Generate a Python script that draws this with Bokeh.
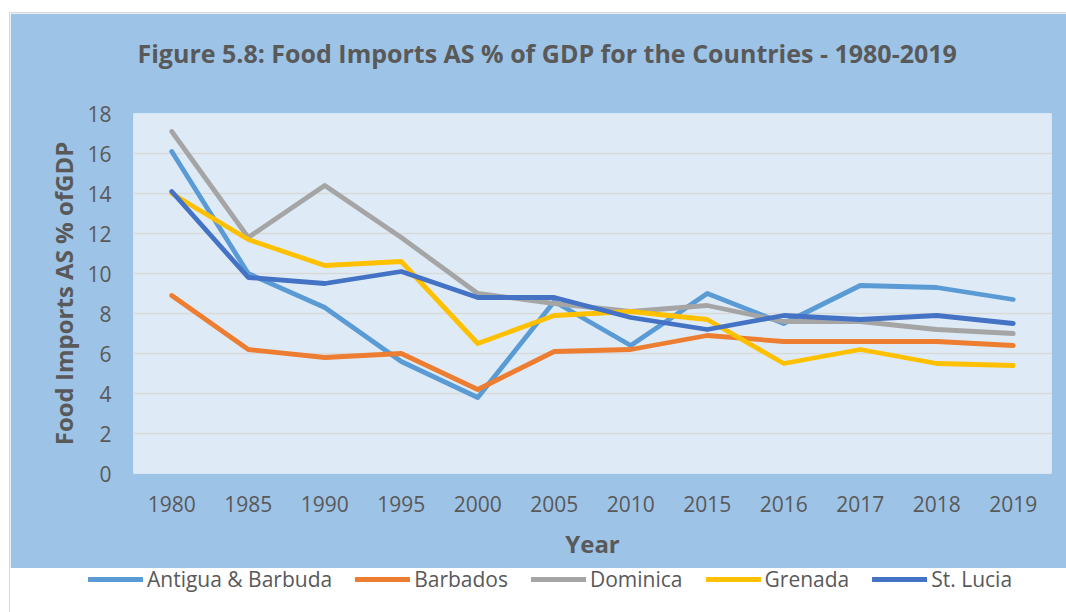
from bokeh.plotting import figure
from bokeh.layouts import column, row
from bokeh.models import Legend, LegendItem, FactorRange, Range1d, FixedTicker, Title
from bokeh.embed import file_html
from bokeh.resources import INLINE

years = ["1980", "1985", "1990", "1995", "2000", "2005", "2010", "2015", "2016", "2017", "2018", "2019"]
antigua = [16.1, 10.0, 8.3, 5.6, 3.8, 8.6, 6.4, 9.0, 7.5, 9.4, 9.3, 8.7]
barbados = [8.9, 6.2, 5.8, 6.0, 4.2, 6.1, 6.2, 6.9, 6.6, 6.6, 6.6, 6.4]
dominica = [17.1, 11.8, 14.4, 11.8, 9.0, 8.5, 8.1, 8.4, 7.6, 7.6, 7.2, 7.0]
grenada = [14.0, 11.7, 10.4, 10.6, 6.5, 7.9, 8.1, 7.7, 5.5, 6.2, 5.5, 5.4]
st_lucia = [14.1, 9.8, 9.5, 10.1, 8.8, 8.8, 7.8, 7.2, 7.9, 7.7, 7.9, 7.5]
y_ticks = [0, 2, 4, 6, 8, 10, 12, 14, 16, 18]

series = [
    ("Antigua & Barbuda", antigua, "#5B9BD5"),
    ("Barbados", barbados, "#ED7D31"),
    ("Dominica", dominica, "#A5A5A5"),
    ("Grenada", grenada, "#FFC000"),
    ("St. Lucia", st_lucia, "#4472C4"),
]

FONT = "Open Sans"
TXT = "#595959"
OUTER = "#9DC3E6"

p = figure(width=1056, height=555, x_range=FactorRange(*years, range_padding=0),
           y_range=Range1d(0, 18), output_backend="svg", toolbar_location=None,
           min_border_left=123, min_border_right=15, min_border_top=100, min_border_bottom=95)
p.background_fill_color = "#DEEBF7"
p.border_fill_color = OUTER
p.outline_line_color = None
p.title = None

for name, vals, col in series:
    p.line(years, vals, line_color=col, line_width=4.8, line_cap="round", line_join="round")

p.xgrid.grid_line_color = None
p.ygrid.grid_line_color = "#D9D9D9"
p.ygrid.grid_line_width = 1.5
p.yaxis.ticker = FixedTicker(ticks=y_ticks)

for ax in (p.xaxis, p.yaxis):
    ax.axis_line_color = None
    ax.major_tick_line_color = None
    ax.minor_tick_line_color = None
    ax.major_label_text_font = FONT
    ax.major_label_text_font_size = "21px"
    ax.major_label_text_color = TXT
    ax.axis_label_text_font = FONT
    ax.axis_label_text_font_style = "bold"
    ax.axis_label_text_font_size = "24px"
    ax.axis_label_text_color = TXT

p.yaxis.axis_label = "Food Imports AS % ofGDP"
p.yaxis.major_label_standoff = 16
p.yaxis.axis_label_standoff = 4
p.xaxis.axis_label = "Year"
p.xaxis.major_label_standoff = 16
p.xaxis.axis_label_standoff = 12

# gap panel between frame and title, then the title itself (outermost)
gap = Title(text=" ", text_font_size="2px", standoff=24)
main_title = Title(text="Figure 5.8: Food Imports AS % of GDP for the Countries - 1980-2019",
                   align="left", offset=4, text_font=FONT, text_font_style="bold",
                   text_font_size="25px", text_color=TXT, standoff=32)
p.add_layout(gap, "above")
p.add_layout(main_title, "above")

# legend strip below the chart (series drawn out of view, only their legend samples show)
lg = figure(width=1056, height=54, output_backend="svg", toolbar_location=None,
            x_axis_type=None, y_axis_type=None, min_border=0,
            x_range=FactorRange(*years, range_padding=0), y_range=Range1d(100, 101))
lg.background_fill_color = None
lg.border_fill_color = OUTER
lg.outline_line_color = None
lg.grid.grid_line_color = None

items = []
for name, vals, col in series:
    r = lg.line(years, vals, line_color=col, line_width=4.8, line_cap="round")
    items.append(LegendItem(label=name, renderers=[r]))

legend = Legend(items=items, orientation="horizontal", location=(78, 19),
                glyph_width=55, glyph_height=20, label_standoff=4, spacing=23,
                padding=0, margin=0, background_fill_alpha=0, border_line_color=None,
                label_text_font=FONT, label_text_font_size="21px", label_text_color=TXT)
lg.add_layout(legend, "center")

lg_row = row(lg)
lg_row.styles = {"margin-top": "-10px"}

layout = column(p, lg_row, spacing=0)
layout.styles = {"margin-left": "9px", "margin-top": "12px",
                 "border-left": "1px solid #D9D9D9", "border-top": "1px solid #D9D9D9"}

open("out.html", "w").write(file_html(layout, INLINE))
